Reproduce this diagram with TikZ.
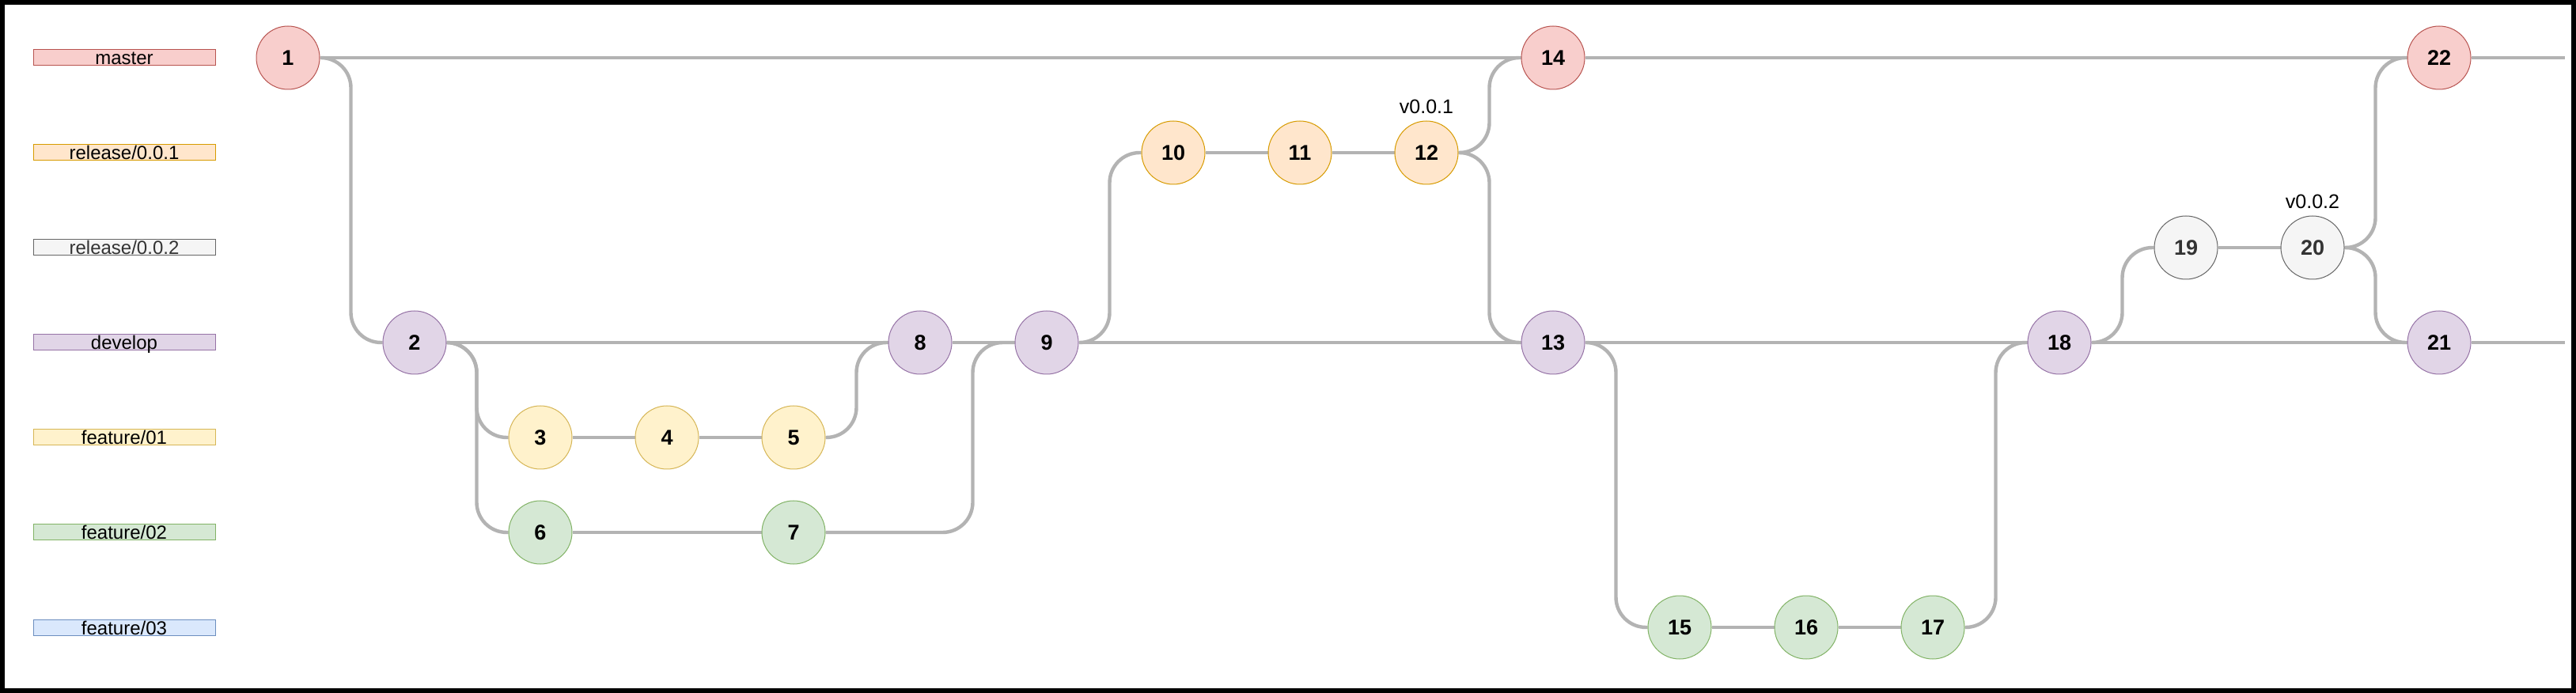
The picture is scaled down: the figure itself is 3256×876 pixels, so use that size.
\documentclass[tikz,border=0pt]{standalone}
\usepackage{fontspec}
\setmainfont{Liberation Sans}
\usetikzlibrary{calc,backgrounds}
\definecolor{edgegray}{HTML}{B3B3B3}
\definecolor{mfill}{HTML}{F8CECC}\definecolor{mline}{HTML}{B85450}
\definecolor{r1fill}{HTML}{FFE6CC}\definecolor{r1line}{HTML}{D79B00}
\definecolor{r2fill}{HTML}{F5F5F5}\definecolor{r2line}{HTML}{666666}\definecolor{r2text}{HTML}{333333}
\definecolor{dfill}{HTML}{E1D5E7}\definecolor{dline}{HTML}{9673A6}
\definecolor{f1fill}{HTML}{FFF2CC}\definecolor{f1line}{HTML}{D6B656}
\definecolor{f2fill}{HTML}{D5E8D4}\definecolor{f2line}{HTML}{82B366}
\definecolor{f3fill}{HTML}{DAE8FC}\definecolor{f3line}{HTML}{6C8EBF}
\begin{document}
\begin{tikzpicture}[x=0.5pt,y=-0.5pt,
  commit/.style={circle, draw, line width=0.5pt, minimum size=40pt, inner sep=0pt,
    font=\fontsize{13.5}{16}\selectfont\bfseries},
  branch/.style={draw, line width=0.5pt, minimum width=115pt, minimum height=10pt,
    inner xsep=0pt, inner ysep=0pt, text height=9.5pt, text depth=0.5pt,
    font=\fontsize{12}{14}\selectfont},
  edge/.style={draw=edgegray, line width=2.2pt, rounded corners=19pt},
  tagtext/.style={anchor=base, inner sep=0pt, font=\fontsize{12.5}{14}\selectfont},
  colmaster/.style={fill=mfill, draw=mline},
  colrelA/.style={fill=r1fill, draw=r1line},
  colrelB/.style={fill=r2fill, draw=r2line, text=r2text},
  coldev/.style={fill=dfill, draw=dline},
  colfeatA/.style={fill=f1fill, draw=f1line},
  colfeatB/.style={fill=f2fill, draw=f2line},
  colfeatC/.style={fill=f3fill, draw=f3line}]
\useasboundingbox (0,0) rectangle (3256,876);

% branch labels
\node[branch, colmaster] (bm)  at (157,73)  {master};
\node[branch, colrelA]   (br1) at (157,193) {release/0.0.1};
\node[branch, colrelB]   (br2) at (157,313) {release/0.0.2};
\node[branch, coldev]    (bd)  at (157,433) {develop};
\node[branch, colfeatA]  (bf1) at (157,553) {feature/01};
\node[branch, colfeatB]  (bf2) at (157,673) {feature/02};
\node[branch, colfeatC]  (bf3) at (157,793) {feature/03};

% commits
\node[commit, colmaster] (n1)  at (364,73)   {1};
\node[commit, coldev]    (n2)  at (524,433)  {2};
\node[commit, colfeatA]  (n3)  at (683,553)  {3};
\node[commit, colfeatA]  (n4)  at (843,553)  {4};
\node[commit, colfeatA]  (n5)  at (1003,553) {5};
\node[commit, colfeatB]  (n6)  at (683,673)  {6};
\node[commit, colfeatB]  (n7)  at (1003,673) {7};
\node[commit, coldev]    (n8)  at (1163,433) {8};
\node[commit, coldev]    (n9)  at (1323,433) {9};
\node[commit, colrelA]   (n10) at (1483,193) {10};
\node[commit, colrelA]   (n11) at (1643,193) {11};
\node[commit, colrelA]   (n12) at (1803,193) {12};
\node[commit, coldev]    (n13) at (1963,433) {13};
\node[commit, colmaster] (n14) at (1963,73)  {14};
\node[commit, colfeatB]  (n15) at (2123,793) {15};
\node[commit, colfeatB]  (n16) at (2283,793) {16};
\node[commit, colfeatB]  (n17) at (2443,793) {17};
\node[commit, coldev]    (n18) at (2603,433) {18};
\node[commit, colrelB]   (n19) at (2763,313) {19};
\node[commit, colrelB]   (n20) at (2923,313) {20};
\node[commit, coldev]    (n21) at (3083,433) {21};
\node[commit, colmaster] (n22) at (3083,73)  {22};

% tags
\node[tagtext] (t1) at ([yshift=4.5pt]n12.north) {v0.0.1};
\node[tagtext] (t2) at ([yshift=4.5pt]n20.north) {v0.0.2};

\coordinate (mEnd) at (3242,73);
\coordinate (dEnd) at (3242,433);

\begin{scope}[on background layer]
\fill[white] (0,0) rectangle (3256,876);
% straight segments
\draw[edge] (n1.east) -- (n14.west);
\draw[edge] (n14.east) -- (n22.west);
\draw[edge] (n22.east) -- (mEnd);
\draw[edge] (n2.east) -- (n8.west);
\draw[edge] (n8.east) -- (n9.west);
\draw[edge] (n9.east) -- (n13.west);
\draw[edge] (n13.east) -- (n18.west);
\draw[edge] (n18.east) -- (n21.west);
\draw[edge] (n21.east) -- (dEnd);
\draw[edge] (n3.east) -- (n4.west);
\draw[edge] (n4.east) -- (n5.west);
\draw[edge] (n6.east) -- (n7.west);
\draw[edge] (n10.east) -- (n11.west);
\draw[edge] (n11.east) -- (n12.west);
\draw[edge] (n15.east) -- (n16.west);
\draw[edge] (n16.east) -- (n17.west);
\draw[edge] (n19.east) -- (n20.west);
% branching / merging curves
\foreach \a/\b in {n1/n2, n2/n3, n2/n6, n5/n8, n9/n10, n12/n14, n12/n13,
                   n13/n15, n17/n18, n18/n19, n20/n22, n20/n21}
  \draw[edge] (\a.east) -| ([xshift=-20pt]\b.west) -- (\b.west);
\draw[edge] (n7.east) -| ([xshift=-26.5pt]n9.west) -- (n9.west);
\end{scope}
\draw[line width=3pt] (3,3) rectangle (3253,873);
\end{tikzpicture}
\end{document}
